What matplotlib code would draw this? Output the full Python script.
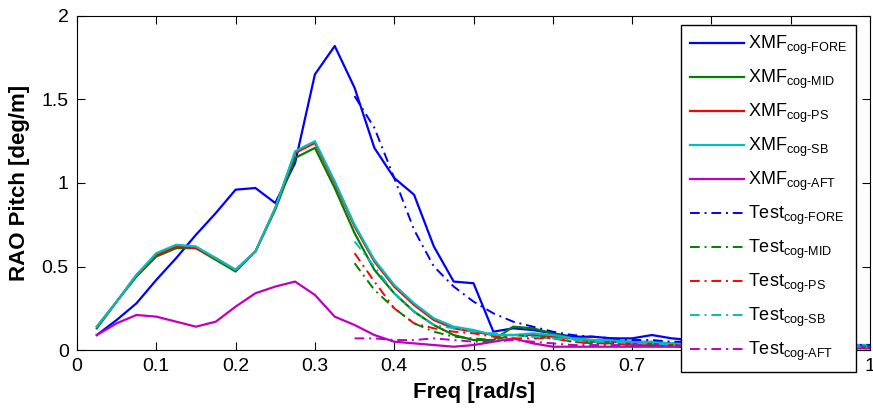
import numpy as np
import matplotlib
matplotlib.use('Agg')
import matplotlib.pyplot as plt

plt.rcParams['font.family'] = ['Liberation Sans', 'DejaVu Sans']
plt.rcParams['mathtext.fontset'] = 'custom'
plt.rcParams['mathtext.rm'] = 'Liberation Sans'
plt.rcParams['mathtext.it'] = 'Liberation Sans:italic'
plt.rcParams['mathtext.bf'] = 'Liberation Sans:bold'

# frecuencias [rad/s]
freq_xmf = [0.025, 0.05, 0.075, 0.1, 0.125, 0.15, 0.175, 0.2, 0.225, 0.25,
            0.275, 0.3, 0.325, 0.35, 0.375, 0.4, 0.425, 0.45, 0.475, 0.5,
            0.525, 0.55, 0.575, 0.6, 0.625, 0.65, 0.675, 0.7, 0.725, 0.75,
            0.775, 0.8, 0.825, 0.85, 0.875, 0.9, 0.925, 0.95, 0.975, 1.0]
freq_test = [0.35, 0.375, 0.4, 0.425, 0.45, 0.475, 0.5, 0.525, 0.55, 0.575,
             0.6, 0.625, 0.65, 0.675, 0.7, 0.725, 0.75, 0.775, 0.8, 0.825,
             0.85, 0.875, 0.9, 0.925, 0.95, 0.975, 1.0]

# RAO pitch XMF [deg/m]
xmf_fore = [0.09, 0.18, 0.28, 0.42, 0.55, 0.69, 0.82, 0.96, 0.97, 0.88,
            1.12, 1.65, 1.82, 1.57, 1.21, 1.03, 0.93, 0.62, 0.41, 0.40,
            0.11, 0.13, 0.12, 0.10, 0.08, 0.08, 0.07, 0.07, 0.09, 0.07,
            0.06, 0.06, 0.05, 0.05, 0.04, 0.04, 0.04, 0.03, 0.03, 0.03]
xmf_mid = [0.13, 0.29, 0.44, 0.56, 0.61, 0.61, 0.54, 0.47, 0.59, 0.84,
           1.15, 1.21, 0.97, 0.70, 0.48, 0.34, 0.23, 0.15, 0.09, 0.06,
           0.06, 0.14, 0.13, 0.10, 0.07, 0.05, 0.05, 0.04, 0.04, 0.03,
           0.03, 0.03, 0.03, 0.02, 0.02, 0.02, 0.02, 0.02, 0.02, 0.02]
xmf_ps = [0.14, 0.29, 0.45, 0.57, 0.62, 0.61, 0.55, 0.48, 0.59, 0.85,
          1.18, 1.24, 1.00, 0.74, 0.53, 0.38, 0.27, 0.18, 0.13, 0.11,
          0.09, 0.09, 0.09, 0.08, 0.07, 0.06, 0.05, 0.05, 0.04, 0.04,
          0.04, 0.03, 0.03, 0.03, 0.03, 0.03, 0.02, 0.02, 0.02, 0.02]
xmf_sb = [0.14, 0.29, 0.45, 0.58, 0.63, 0.62, 0.55, 0.48, 0.59, 0.85,
          1.19, 1.25, 1.01, 0.75, 0.54, 0.39, 0.28, 0.19, 0.14, 0.12,
          0.09, 0.09, 0.10, 0.09, 0.07, 0.06, 0.06, 0.05, 0.05, 0.04,
          0.04, 0.04, 0.03, 0.03, 0.03, 0.03, 0.03, 0.03, 0.03, 0.03]
xmf_aft = [0.09, 0.16, 0.21, 0.20, 0.17, 0.14, 0.17, 0.26, 0.34, 0.38,
           0.41, 0.33, 0.20, 0.15, 0.09, 0.05, 0.04, 0.03, 0.02, 0.03,
           0.05, 0.07, 0.04, 0.02, 0.02, 0.02, 0.02, 0.02, 0.02, 0.02,
           0.02, 0.02, 0.02, 0.02, 0.02, 0.02, 0.01, 0.01, 0.01, 0.01]

# RAO pitch ensayo [deg/m]
test_fore = [1.52, 1.33, 1.03, 0.72, 0.50, 0.38, 0.29, 0.22, 0.17, 0.14,
             0.11, 0.09, 0.08, 0.07, 0.06, 0.06, 0.05, 0.05, 0.04, 0.04,
             0.04, 0.03, 0.03, 0.03, 0.03, 0.03, 0.03]
test_mid = [0.52, 0.36, 0.25, 0.16, 0.11, 0.08, 0.07, 0.06, 0.09, 0.08,
            0.07, 0.05, 0.04, 0.04, 0.03, 0.03, 0.03, 0.02, 0.02, 0.02,
            0.02, 0.02, 0.02, 0.02, 0.02, 0.02, 0.02]
test_ps = [0.58, 0.41, 0.25, 0.16, 0.13, 0.11, 0.10, 0.08, 0.07, 0.07,
           0.07, 0.05, 0.04, 0.04, 0.03, 0.03, 0.03, 0.03, 0.02, 0.02,
           0.02, 0.02, 0.02, 0.02, 0.02, 0.02, 0.02]
test_sb = [0.65, 0.50, 0.34, 0.23, 0.15, 0.13, 0.11, 0.10, 0.09, 0.08,
           0.07, 0.06, 0.05, 0.05, 0.04, 0.04, 0.03, 0.03, 0.03, 0.03,
           0.03, 0.03, 0.02, 0.02, 0.02, 0.02, 0.02]
test_aft = [0.07, 0.07, 0.06, 0.06, 0.07, 0.06, 0.05, 0.05, 0.06, 0.05,
            0.04, 0.03, 0.03, 0.03, 0.03, 0.03, 0.02, 0.02, 0.02, 0.02,
            0.02, 0.02, 0.02, 0.02, 0.02, 0.02, 0.02]

posiciones = ['FORE', 'MID', 'PS', 'SB', 'AFT']
colores = ['#0000ff', '#008000', '#ff0000', '#00bfbf', '#bf00bf']
series_xmf = [xmf_fore, xmf_mid, xmf_ps, xmf_sb, xmf_aft]
series_test = [test_fore, test_mid, test_ps, test_sb, test_aft]

fig = plt.figure(figsize=(8.73, 4.08), dpi=100)
ax = fig.add_axes([0.0882, 0.142, 0.9084, 0.819])

for pos, col, y in zip(posiciones, colores, series_xmf):
    ax.plot(freq_xmf, y, color=col, lw=1.6, label=r'XMF$_{\text{cog-' + pos + '}}$')
for pos, col, y in zip(posiciones, colores, series_test):
    ax.plot(freq_test, y, color=col, lw=1.4, dashes=(5, 2.5, 1, 2.5),
            label=r'Test$_{\text{cog-' + pos + '}}$')

ax.set_xlim(0, 1)
ax.set_ylim(0, 2)
ax.set_xticks(np.arange(0, 1.01, 0.1))
ax.set_xticklabels(['0', '0.1', '0.2', '0.3', '0.4', '0.5', '0.6', '0.7', '0.8', '0.9', '1'])
ax.set_yticks([0, 0.5, 1, 1.5, 2])
ax.set_yticklabels(['0', '0.5', '1', '1.5', '2'])
ax.tick_params(direction='in', top=True, right=True, length=6, labelsize=14, pad=6)
ax.set_xlabel('Freq [rad/s]', fontsize=16, fontweight='bold', labelpad=5)
ax.set_ylabel('RAO Pitch [deg/m]', fontsize=16, fontweight='bold', labelpad=8)

leg = ax.legend(loc='upper left', bbox_to_anchor=(0.762, 0.973), borderaxespad=0,
                fontsize=13, handlelength=3.0, handletextpad=0.2, labelspacing=0.6,
                fancybox=False, framealpha=1, edgecolor='black', borderpad=0.5)
leg.get_frame().set_linewidth(1.0)

fig.savefig('out.png', dpi=100)
